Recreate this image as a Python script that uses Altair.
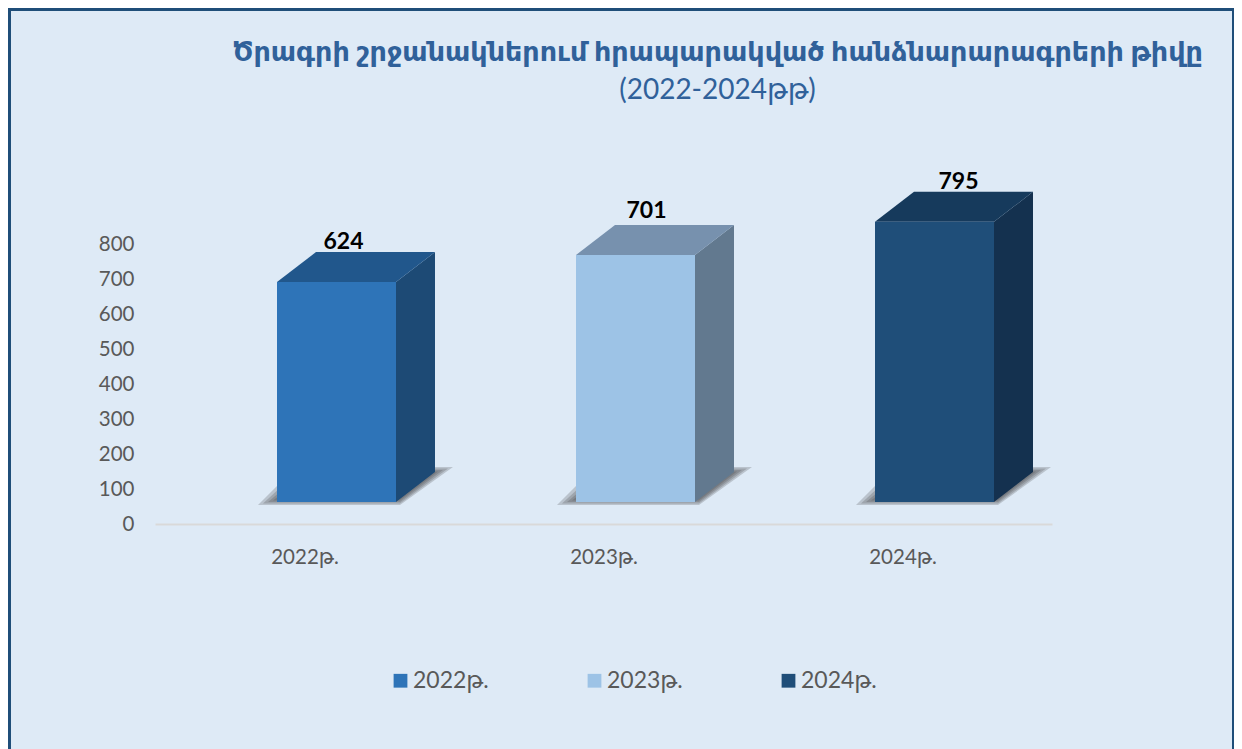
import altair as alt
import pandas as pd

years = ["2022թ.", "2023թ.", "2024թ."]
values = [624, 701, 795]
y_ticks = [0, 100, 200, 300, 400, 500, 600, 700, 800]
front_colors = ["#2e74b8", "#9dc3e6", "#1f4e79"]
side_colors = ["#1d4a75", "#62798f", "#14314f"]
top_colors = ["#21578c", "#7791ae", "#163a5c"]
label_shift = [39, 43, 56]
label_lift = [-10, -14, -10]

TITLE = "Ծրագրի շրջանակներում հրապարակված հանձնարարագրերի թիվը"
SUBTITLE = "(2022-2024թթ)"
BG = "#deeaf6"
NAVY = "#1f4e79"
INK = "#595959"
FONT = "Lato, 'DejaVu Sans'"

W, H = 897, 280
L, T, R, B = 147, 236, 182, 225
px_x = 3 / W
px_y = 800 / H
shift = 32 * px_x
half = 59.5 * px_x
dx = 39 * px_x
dy = 30 * px_y
base = 22 * px_y
stretch = 1.007


def para(x0, x1, y0, sxl, sxr, sy):
    """Slanted horizontal face: lower/upper edges sampled at its x breakpoints."""
    rows = []
    for x in sorted({x0, x1, x0 + sxl, x1 + sxr}):
        lo = y0 if x <= x1 else y0 + (x - x1) / sxr * sy
        hi = y0 + (x - x0) / sxl * sy if x <= x0 + sxl else y0 + sy
        rows.append(dict(x=x, lo=lo, hi=hi))
    return rows


front_rows, side, tops, shadows = [], [], [], []
for i, (yr, v) in enumerate(zip(years, values)):
    c = i + 0.5 + shift
    xl, xr = c - half, c + half
    top = base + v * stretch
    front_rows.append(dict(year=yr, xl=xl, xr=xr, y0=base, y1=top))
    side.append(dict(bar=i, fill=side_colors[i], x=xr, lo=base, hi=top))
    side.append(dict(bar=i, fill=side_colors[i], x=xr + dx, lo=base + dy, hi=top + dy))
    tops.append(pd.DataFrame(para(xl, xr, top, dx, dx, dy)))
    for k, inset in enumerate([0, 5, 10, 15]):
        rows = para(
            xl - (19 - inset) * px_x, xr + 4 * px_x,
            base - (3 - inset * 0.3) * px_y,
            38 * px_x, (53 - inset) * px_x, (38 - inset * 0.6) * px_y,
        )
        shadows += [dict(r, ring=f"{i}-{k}") for r in rows]

front_df = pd.DataFrame(front_rows)
side_df = pd.DataFrame(side)
shadow_df = pd.DataFrame(shadows)
labels_df = pd.DataFrame({"year": years, "value": values})

x_scale = alt.Scale(domain=[0, 3], nice=False, zero=False)
y_scale = alt.Scale(domain=[0, 800], nice=False)
x_axis = alt.Axis(
    values=[0.5, 1.5, 2.5], labelExpr="['2022թ.','2023թ.','2024թ.'][floor(datum.value)]",
    ticks=False, grid=False, domainColor="#d9d9d9", domainWidth=2, labelColor=INK,
    labelFont=FONT, labelFontSize=20.5, labelPadding=23, title=None,
)
y_axis = alt.Axis(
    values=y_ticks, ticks=False, grid=False, domain=False, labelColor=INK,
    labelFont=FONT, labelFontSize=20.5, labelPadding=21, labelOverlap=False, title=None,
)
qx = lambda f: alt.X(f, scale=x_scale, axis=x_axis)
qy = lambda f: alt.Y(f, scale=y_scale, axis=y_axis)

shadow = alt.Chart(shadow_df).mark_area(opacity=0.22, color="#3a3a3a").encode(
    x=qx("x:Q"), y=qy("lo:Q"), y2="hi:Q", detail="ring:N",
)

side_face = alt.Chart(side_df).mark_area().encode(
    x=qx("x:Q"), y=qy("lo:Q"), y2="hi:Q",
    fill=alt.Fill("fill:N", scale=None),
    detail="bar:N",
)

top_faces = [
    alt.Chart(t).mark_area(color=top_colors[i]).encode(x=qx("x:Q"), y=qy("lo:Q"), y2="hi:Q")
    for i, t in enumerate(tops)
]

front = alt.Chart(front_df).mark_rect().encode(
    x=qx("xl:Q"),
    x2="xr:Q",
    y=qy("y0:Q"),
    y2="y1:Q",
    color=alt.Color(
        "year:N",
        scale=alt.Scale(domain=years, range=front_colors),
        legend=alt.Legend(
            title=None, orient="none", legendX=234, legendY=425, direction="horizontal",
            columns=3, symbolType="square", symbolSize=190, symbolStrokeWidth=0,
            labelFont=FONT, labelFontSize=23, labelColor=INK, labelOffset=1,
            columnPadding=94,
        ),
    ),
)

value_layers = []
for i, yr in enumerate(years):
    c = i + 0.5
    top = base + values[i] * stretch + dy
    value_layers.append(
        alt.Chart(labels_df[labels_df.year == yr].assign(px=c, py=top))
        .mark_text(
            font=FONT, fontSize=23, fontWeight="bold", color="#000000",
            dx=label_shift[i], dy=label_lift[i], baseline="middle",
        )
        .encode(x=qx("px:Q"), y=qy("py:Q"), text="value:Q")
    )

border = [
    alt.Chart(pd.DataFrame({"k": [0]})).mark_rect(color=NAVY).encode(
        x=alt.value(-L), x2=alt.value(-L + 3), y=alt.value(-T), y2=alt.value(H + B)
    ),
    alt.Chart(pd.DataFrame({"k": [0]})).mark_rect(color=NAVY).encode(
        x=alt.value(-L), x2=alt.value(W + R), y=alt.value(-T), y2=alt.value(-T + 3)
    ),
    alt.Chart(pd.DataFrame({"k": [0]})).mark_rect(color=NAVY).encode(
        x=alt.value(W + R - 2), x2=alt.value(W + R), y=alt.value(-T), y2=alt.value(H + B)
    ),
]

chart = (
    alt.layer(*border, shadow, side_face, *top_faces, front, *value_layers)
    .resolve_scale(color="independent")
    .properties(
        width=W,
        height=H,
        background=BG,
        padding={"left": L, "top": T, "right": R, "bottom": B},
        autosize=alt.AutoSizeParams(type="none"),
        title=alt.TitleParams(
            text=TITLE,
            subtitle=SUBTITLE,
            anchor="middle",
            dx=114,
            offset=-98,
            font=FONT,
            fontSize=27,
            fontWeight="bold",
            color="#30619a",
            subtitleFont=FONT,
            subtitleFontSize=28,
            subtitleColor="#30619a",
            subtitlePadding=10,
        ),
    )
    .configure_view(stroke=None)
)

chart.save("out.html", embed_options={"renderer": "svg", "actions": False})
